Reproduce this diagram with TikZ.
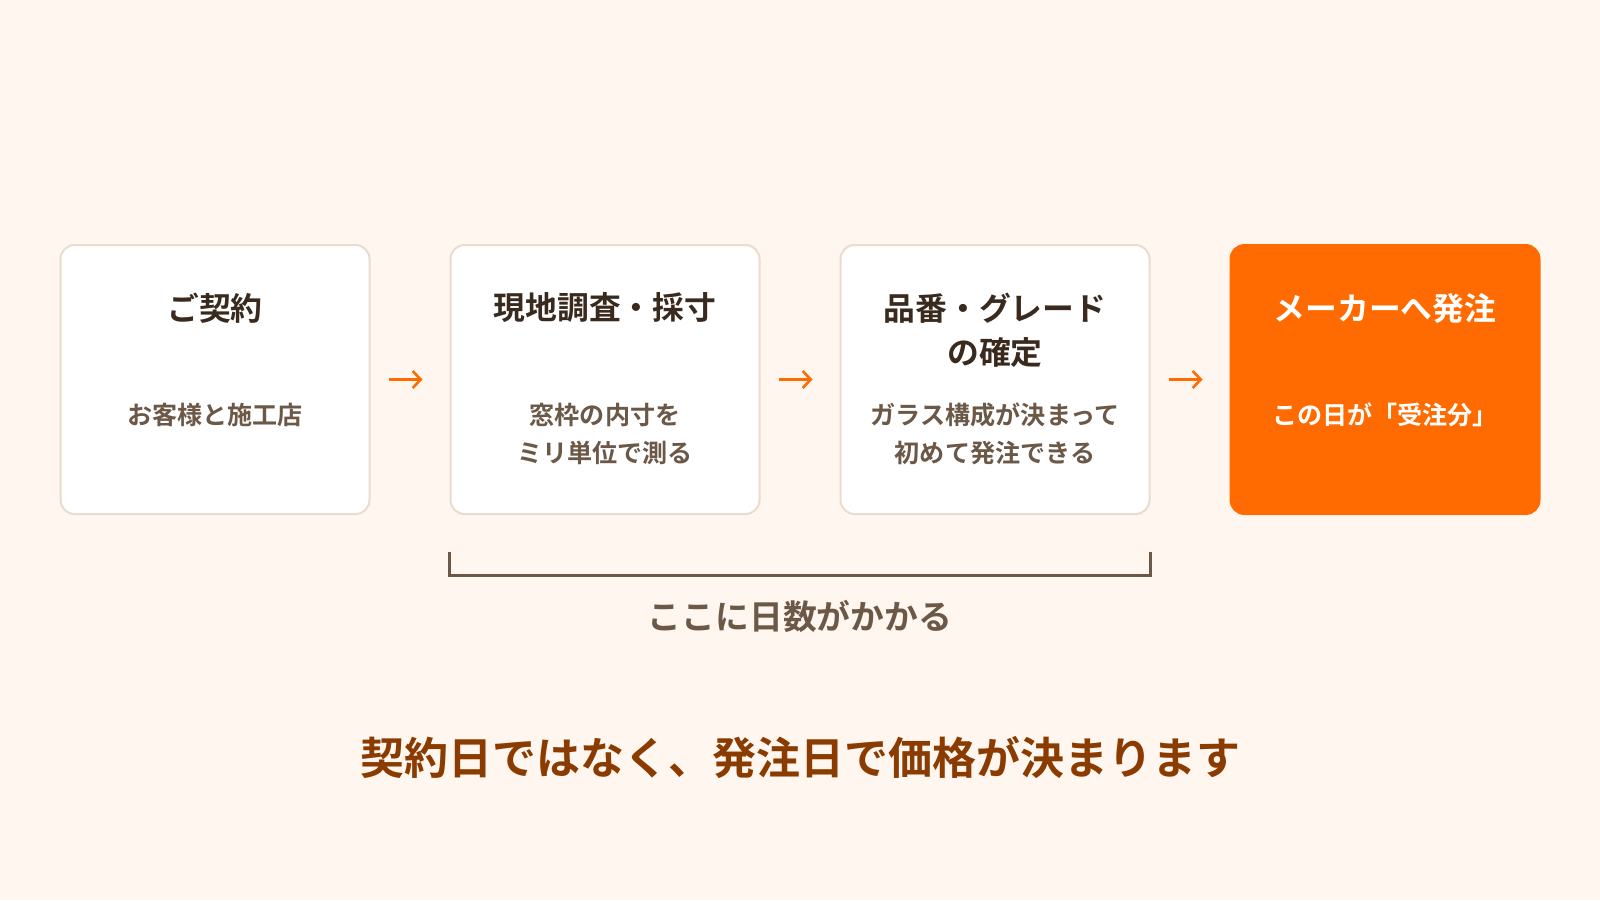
\documentclass[tikz,border=0pt]{standalone}
\usepackage{fontspec}
\setmainfont{Noto Sans CJK JP}[BoldFont={Noto Sans CJK JP Bold}]
\usetikzlibrary{arrows.meta,calc,positioning}
\definecolor{bgcream}{HTML}{FFF6EF}
\definecolor{boxline}{HTML}{E8DCCD}
\definecolor{darkbrown}{HTML}{3A2A1E}
\definecolor{midbrown}{HTML}{6B5847}
\definecolor{rustbrown}{HTML}{8A3B00}
\definecolor{vivorange}{HTML}{FF6B00}

\begin{document}
\begin{tikzpicture}
[x=1pt,y=-1pt,font=\bfseries,
stepbox/.style={draw=boxline,line width=2pt,fill=white,rounded corners=14pt,
minimum width=309pt,minimum height=269pt,inner sep=0pt},
hotbox/.style={stepbox,draw=vivorange,fill=vivorange},
ttl/.style={darkbrown,align=center,inner sep=0pt,font=\fontsize{31.8}{44}\selectfont\bfseries},
sub/.style={midbrown,align=center,inner sep=0pt,font=\fontsize{25.1}{37.8}\selectfont\bfseries},
flow/.style={vivorange,line width=2.6pt,shorten >=27pt,shorten <=18pt,
-{Straight Barb[length=8pt,width=17pt]}}]
\fill[bgcream] (0,0) rectangle (1600,900);
\useasboundingbox (0,0) rectangle (1600,900);

\node (b1) at (215,379.5) [stepbox] {};
\node (b2) at (605,379.5) [stepbox] {};
\node (b3) at (995,379.5) [stepbox] {};
\node (b4) at (1385,379.5) [hotbox] {};

\node (t1) at (215,308) [ttl] {ご契約};
\node (s1) at (215,415) [sub] {お客様と施工店};
\node (t2) at (605,308) [ttl] {現地調査・採寸};
\node (s2) at (605,434) [sub] {窓枠の内寸を\\ミリ単位で測る};
\node (t3) at (995,330) [ttl] {品番・グレード\\の確定};
\node (s3) at (995,434) [sub] {ガラス構成が決まって\\初めて発注できる};
\node (t4) at (1385,308) [ttl,white] {メーカーへ発注};
\node (s4) at (1385,415) [sub,white] {この日が「受注分」};

\draw[flow] (b1) -- (b2);
\draw[flow] (b2) -- (b3);
\draw[flow] (b3) -- (b4);

% bracket under the waiting steps
\coordinate (bl) at ($(b2.south west)+(0,37)$);
\coordinate (br) at ($(b3.south east)+(0,37)$);
\draw[midbrown,line width=2.6pt] (bl) -- ++(0,23.5) -| (br);

\node (wait) at (800,616) [midbrown,inner sep=0pt,font=\fontsize{33.8}{40}\selectfont\bfseries] {ここに日数がかかる};
\node (msg) at (800,758) [rustbrown,inner sep=0pt,font=\fontsize{44}{52}\selectfont\bfseries] {契約日ではなく、発注日で価格が決まります};
\end{tikzpicture}
\end{document}
